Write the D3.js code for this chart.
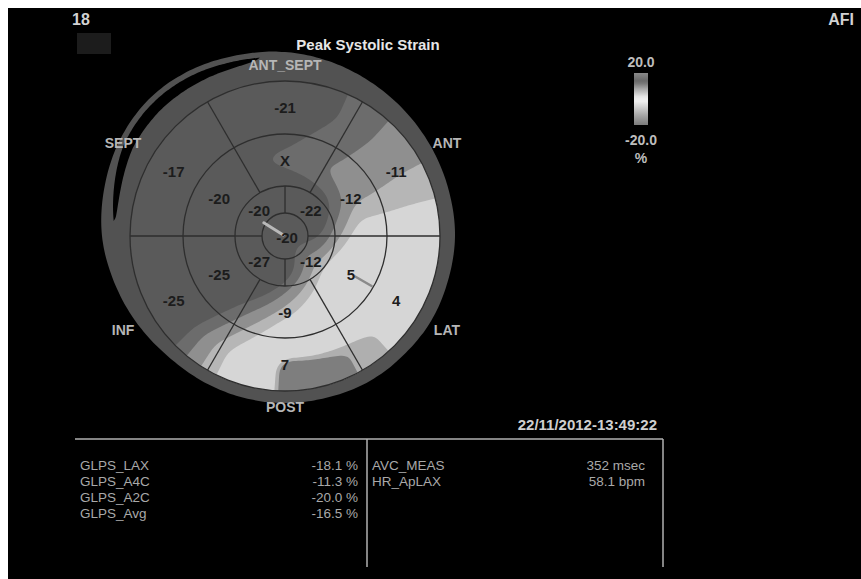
<!DOCTYPE html>
<html>
<head>
<meta charset="utf-8">
<script src="https://cdn.jsdelivr.net/npm/d3@7"></script>
<style>
  html, body { margin: 0; padding: 0; background: #fff; }
  svg { display: block; }
  text { font-family: "Liberation Sans", Arial, sans-serif; }
</style>
</head>
<body>
<svg id="chart" width="861" height="579"></svg>
<script>
// ---- data ----------------------------------------------------------------
// Wall sectors, clockwise from 12 o'clock
const sectors = ["ANT_SEPT", "ANT", "LAT", "POST", "INF", "SEPT"];
// Peak systolic strain (%) per segment, same sector order; null = excluded
const basalStrain = [-21, -11, 4, 7, -25, -17];
const midStrain = [null, -12, 5, -9, -25, -20];
// Apical quadrants clockwise from 12 o'clock
const apicalStrain = [-22, -12, -27, -20];
const apexStrain = -20;
// Global strain table
const glpsLabels = ["GLPS_LAX", "GLPS_A4C", "GLPS_A2C", "GLPS_Avg"];
const glpsValues = [-18.1, -11.3, -20.0, -16.5];
const measLabels = ["AVC_MEAS", "HR_ApLAX"];
const measValues = ["352", "58.1"];
const measUnits = ["msec", "bpm"];
// Colour bar end labels
const scaleTicks = [20.0, -20.0];
// Contour band limits (%) and their grey levels
const bandThresholds = [-17, -14, -10.5, -7, 4.9, 5.6];
const bandGrays = ["#5a5a5a", "#6c6c6c", "#8f8f8f", "#b6b6b6", "#d6d6d6", "#afafaf", "#7e7e7e"];
const timestamp = "22/11/2012-13:49:22";

// ---- layout ----------------------------------------------------------------
const W = 861, H = 579;
const cx = 285, cy = 236;
const rApex = 23, rApical = 50, rMid = 102, rBasal = 155;
const deg = Math.PI / 180;
const pt = (aDeg, r) => [cx + r * Math.sin(aDeg * deg), cy - r * Math.cos(aDeg * deg)];

const svg = d3.select("#chart");
svg.append("rect").attr("width", W).attr("height", H).attr("fill", "#fff");
svg.append("rect").attr("x", 8).attr("y", 8).attr("width", W - 8).attr("height", H - 8).attr("fill", "#000");

// ---- outer tracking ring (egg-shaped outline, every 15 degrees) ----------
const ringProfile = [184, 180, 176, 173, 171, 170, 170, 169, 169, 168, 168, 167,
                     167, 167, 167, 168, 172, 177, 183, 187, 191, 193, 191, 187];
function rOut(a) {
  const n = ringProfile.length;
  a = ((a % 360) + 360) % 360;
  const t = a / 15, i = Math.floor(t), f = t - i;
  const p = k => ringProfile[((i + k) % n + n) % n];
  const p0 = p(-1), p1 = p(0), p2 = p(1), p3 = p(2);
  return 0.5 * ((2 * p1) + (-p0 + p2) * f + (2 * p0 - 5 * p1 + 4 * p2 - p3) * f * f +
         (-p0 + 3 * p1 - 3 * p2 + p3) * f * f * f);
}
const ringPts = d3.range(0, 360, 2).map(a => [a * deg, rOut(a)]);
svg.append("path")
  .attr("transform", `translate(${cx},${cy})`)
  .attr("d", d3.lineRadial().angle(d => d[0]).radius(d => d[1]).curve(d3.curveCardinalClosed)(ringPts))
  .attr("fill", "#525252");

// black gap in the upper-left part of the ring
const gapA0 = 275, gapA1 = 352;
const gapThick = a => 10.5 * Math.sqrt(Math.max(0, Math.sin(Math.PI * (a - gapA0) / (gapA1 - gapA0))));
const gapOffset = a => 5.5 + 7 * Math.max(0, (300 - a) / 25);
svg.append("path")
  .attr("transform", `translate(${cx},${cy})`)
  .attr("d", d3.areaRadial()
    .angle(a => a * deg)
    .outerRadius(a => rOut(a) - gapOffset(a))
    .innerRadius(a => rOut(a) - gapOffset(a) - gapThick(a))
    .curve(d3.curveBasis)(d3.range(gapA0, gapA1 + 0.5, 1)))
  .attr("fill", "#000");

// ---- strain field over the bullseye ---------------------------------------
// periodic linear interpolation of one ring's values around the circle
function ringInterp(values, step, offset) {
  const known = [];
  values.forEach((v, k) => { if (v != null) known.push([offset + k * step, v]); });
  return a => {
    for (let k = 0; k < known.length; k++) {
      const [a0, v0] = known[k];
      const [a1raw, v1] = known[(k + 1) % known.length];
      const a1 = a1raw <= a0 ? a1raw + 360 : a1raw;
      let aa = a; while (aa < a0) aa += 360; while (aa >= a0 + 360) aa -= 360;
      if (aa >= a0 && aa <= a1) return v0 + (v1 - v0) * (aa - a0) / (a1 - a0);
    }
    return known[0][1];
  };
}
const basalAt = ringInterp(basalStrain, 60, 0);
const midAt = ringInterp(midStrain, 60, 0);
const apicalAt = ringInterp(apicalStrain, 90, 45);
const ringR = [0, (rApex + rApical) / 2, (rApical + rMid) / 2, (rMid + rBasal) / 2];
function fieldAt(x, y) {
  const r = Math.hypot(x, y);
  let a = Math.atan2(x, -y) / deg; if (a < 0) a += 360;
  const vals = [apexStrain, apicalAt(a), midAt(a), basalAt(a)];
  if (r >= ringR[3]) return vals[3];
  let k = 0; while (r >= ringR[k + 1]) k++;
  const t = (r - ringR[k]) / (ringR[k + 1] - ringR[k]);
  return vals[k] + (vals[k + 1] - vals[k]) * t;
}
const cell = 2, half = 166, n = Math.round(2 * half / cell);
const field = new Float64Array(n * n);
for (let j = 0; j < n; j++) for (let i = 0; i < n; i++)
  field[j * n + i] = fieldAt(-half + (i + 0.5) * cell, -half + (j + 0.5) * cell);
// light smoothing of the interpolation kinks
function boxBlur(arr, rad) {
  const tmp = new Float64Array(n * n);
  for (let j = 0; j < n; j++) for (let i = 0; i < n; i++) {
    let s = 0, c = 0;
    for (let k = -rad; k <= rad; k++) { const ii = i + k; if (ii >= 0 && ii < n) { s += arr[j * n + ii]; c++; } }
    tmp[j * n + i] = s / c;
  }
  for (let j = 0; j < n; j++) for (let i = 0; i < n; i++) {
    let s = 0, c = 0;
    for (let k = -rad; k <= rad; k++) { const jj = j + k; if (jj >= 0 && jj < n) { s += tmp[jj * n + i]; c++; } }
    arr[j * n + i] = s / c;
  }
}
boxBlur(field, 3); boxBlur(field, 3);

const band = d3.scaleThreshold().domain(bandThresholds).range(bandGrays);
const contours = d3.contours().size([n, n]).thresholds(bandThresholds)(Array.from(field));
const proj = d3.geoIdentity().scale(cell).translate([cx - half, cy - half]);
const geo = d3.geoPath(proj);

svg.append("clipPath").attr("id", "disk")
  .append("circle").attr("cx", cx).attr("cy", cy).attr("r", rBasal);
const fieldG = svg.append("g").attr("clip-path", "url(#disk)");
fieldG.append("circle").attr("cx", cx).attr("cy", cy).attr("r", rBasal).attr("fill", band(-30));
fieldG.selectAll("path.band").data(contours).join("path")
  .attr("class", "band")
  .attr("d", geo)
  .attr("fill", d => band(d.value));

// ---- segment grid -----------------------------------------------------------
const gridG = svg.append("g").attr("fill", "none").attr("stroke", "#2e2e2e").attr("stroke-width", 1.3);
[rApex, rApical, rMid, rBasal].forEach(r =>
  gridG.append("circle").attr("cx", cx).attr("cy", cy).attr("r", r));
sectors.forEach((s, k) => {
  const a = k * 60 + 30;
  gridG.append("line")
    .attr("x1", pt(a, rApical)[0]).attr("y1", pt(a, rApical)[1])
    .attr("x2", pt(a, rBasal)[0]).attr("y2", pt(a, rBasal)[1]);
});
apicalStrain.forEach((v, k) => {
  const a = k * 90;
  gridG.append("line")
    .attr("x1", pt(a, rApex)[0]).attr("y1", pt(a, rApex)[1])
    .attr("x2", pt(a, rApical)[0]).attr("y2", pt(a, rApical)[1]);
});

// peak markers
const markG = svg.append("g").attr("stroke-linecap", "round");
markG.append("line")
  .attr("x1", pt(302, 2)[0]).attr("y1", pt(302, 2)[1])
  .attr("x2", pt(302, 25)[0]).attr("y2", pt(302, 25)[1])
  .attr("stroke", "#b9b9b9").attr("stroke-width", 3);
markG.append("line")
  .attr("x1", pt(120, 81)[0]).attr("y1", pt(120, 81)[1])
  .attr("x2", pt(120, 100)[0]).attr("y2", pt(120, 100)[1])
  .attr("stroke", "#8a8a8a").attr("stroke-width", 2.5);

// ---- segment values ------------------------------------------------------------
const valG = svg.append("g")
  .attr("font-size", 15).attr("font-weight", "bold").attr("fill", "#1c1c1c")
  .attr("text-anchor", "middle").attr("dominant-baseline", "central");
basalStrain.forEach((v, k) => {
  const p = pt(k * 60, ringR[3]);
  valG.append("text").attr("x", p[0]).attr("y", p[1]).text(v);
});
midStrain.forEach((v, k) => {
  const p = pt(k * 60, ringR[2]);
  valG.append("text").attr("x", p[0]).attr("y", p[1]).text(v == null ? "X" : v);
});
apicalStrain.forEach((v, k) => {
  const p = pt(k * 90 + 45, ringR[1]);
  valG.append("text").attr("x", p[0]).attr("y", p[1]).text(v);
});
valG.append("text").attr("x", cx + 2).attr("y", cy + 1).text(apexStrain);

// ---- sector names ------------------------------------------------------------
const secG = svg.append("g")
  .attr("font-size", 14).attr("font-weight", "bold").attr("fill", "#b6b6b6")
  .attr("text-anchor", "middle").attr("dominant-baseline", "central");
sectors.forEach((s, k) => {
  const r = (k % 3 === 0) ? 171 : 187;
  const p = pt(k * 60, r);
  secG.append("text").attr("x", p[0]).attr("y", p[1]).text(s);
});

// ---- header ---------------------------------------------------------------------
svg.append("text").attr("x", 72).attr("y", 25).attr("font-size", 16).attr("font-weight", "bold")
  .attr("fill", "#d2d2d2").text("18");
svg.append("text").attr("x", 854).attr("y", 25).attr("font-size", 16).attr("font-weight", "bold")
  .attr("text-anchor", "end").attr("fill", "#d2d2d2").text("AFI");
svg.append("rect").attr("x", 77).attr("y", 33).attr("width", 34).attr("height", 21).attr("fill", "#1c1c1c");
svg.append("text").attr("x", 368).attr("y", 50).attr("font-size", 15).attr("font-weight", "bold")
  .attr("text-anchor", "middle").attr("fill", "#e6e6e6").text("Peak Systolic Strain");

// ---- colour bar -----------------------------------------------------------------
const barColor = d3.scaleLinear()
  .domain([20, 13.5, 7, 1, -2, -7, -13.5, -20])
  .range(["#8a8a8a", "#666666", "#b0b0b0", "#eeeeee", "#eeeeee", "#cccccc", "#a0a0a0", "#7c7c7c"]);
const barY = d3.scaleLinear().domain(scaleTicks).range([73, 125]);
const grad = svg.append("defs").append("linearGradient").attr("id", "bar")
  .attr("x1", 0).attr("y1", 0).attr("x2", 0).attr("y2", 1);
d3.range(0, 1.0001, 0.05).forEach(t => {
  grad.append("stop").attr("offset", t)
    .attr("stop-color", barColor(scaleTicks[0] + (scaleTicks[1] - scaleTicks[0]) * t));
});
svg.append("rect").attr("x", 634).attr("y", barY(scaleTicks[0])).attr("width", 14)
  .attr("height", barY(scaleTicks[1]) - barY(scaleTicks[0])).attr("fill", "url(#bar)");
const barLbl = svg.append("g").attr("font-size", 14).attr("font-weight", "bold")
  .attr("fill", "#bdbdbd").attr("text-anchor", "middle");
barLbl.append("text").attr("x", 641).attr("y", barY(scaleTicks[0]) - 6).text(scaleTicks[0].toFixed(1));
barLbl.append("text").attr("x", 641).attr("y", barY(scaleTicks[1]) + 20).text(scaleTicks[1].toFixed(1));
barLbl.append("text").attr("x", 641).attr("y", barY(scaleTicks[1]) + 38).text("%");

// ---- results table --------------------------------------------------------------
svg.append("text").attr("x", 657).attr("y", 430).attr("font-size", 15).attr("font-weight", "bold")
  .attr("text-anchor", "end").attr("fill", "#cfcfcf").text(timestamp);
const tbl = svg.append("g").attr("stroke", "#b0b0b0").attr("stroke-width", 1.5);
tbl.append("line").attr("x1", 75).attr("y1", 439).attr("x2", 663).attr("y2", 439);
tbl.append("line").attr("x1", 367).attr("y1", 439).attr("x2", 367).attr("y2", 567);
tbl.append("line").attr("x1", 663).attr("y1", 439).attr("x2", 663).attr("y2", 567);

const rowY = d3.scaleLinear().domain([0, 1]).range([470, 486]);
const txt = svg.append("g").attr("font-size", 13.5).attr("fill", "#a9a9a9");
glpsLabels.forEach((l, i) => {
  txt.append("text").attr("x", 80).attr("y", rowY(i)).text(l);
  txt.append("text").attr("x", 358).attr("y", rowY(i)).attr("text-anchor", "end")
    .text(`${glpsValues[i].toFixed(1)} %`);
});
measLabels.forEach((l, i) => {
  txt.append("text").attr("x", 372).attr("y", rowY(i)).text(l);
  txt.append("text").attr("x", 645).attr("y", rowY(i)).attr("text-anchor", "end")
    .text(`${measValues[i]} ${measUnits[i]}`);
});
</script>
</body>
</html>
